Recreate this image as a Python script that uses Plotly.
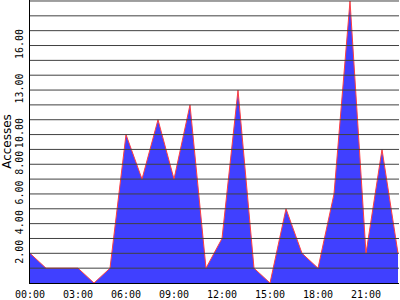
import plotly.graph_objects as go

hours = list(range(24))
accesses = [2, 1, 1, 1, 0, 1, 10, 7, 11, 7, 12, 1, 3, 13, 1, 0, 5, 2, 1, 6, 19, 2, 9, 2]
x_tickvals = [0, 3, 6, 9, 12, 15, 18, 21]
x_ticktext = ["00:00", "03:00", "06:00", "09:00", "12:00", "15:00", "18:00", "21:00"]
y_tickvals = [2, 4, 6, 8, 10, 13, 16]
y_ticktext = ["2.00", "4.00", "6.00", "8.00", "10.00", "13.00", "16.00"]
grid_levels = list(range(1, 20))

fig = go.Figure()
fig.add_trace(go.Scatter(
    x=hours, y=accesses, mode="lines", fill="tozeroy",
    fillcolor="#4040FF", line=dict(color="#FF4040", width=1),
    hoverinfo="skip", showlegend=False,
))

for g in grid_levels:
    fig.add_hline(y=g, line=dict(color="#404040", width=1), layer="above")

fig.update_layout(
    width=400, height=300,
    margin=dict(l=30, r=1, t=0, b=14),
    paper_bgcolor="white", plot_bgcolor="white",
    font=dict(family="DejaVu Sans Mono", size=10, color="black"),
)
fig.update_xaxes(
    range=[0, 23.0625], tickvals=x_tickvals, ticktext=x_ticktext,
    showgrid=False, zeroline=False, showline=True, linecolor="black", linewidth=1,
    ticks="", ticklabelstandoff=2,
)
fig.update_yaxes(
    range=[0, 286 / 15], tickvals=y_tickvals, ticktext=y_ticktext, tickangle=-90,
    showgrid=False, zeroline=False, showline=True, linecolor="black", linewidth=1,
    ticks="", ticklabelstandoff=2,
    title=dict(text="Accesses", font=dict(family="DejaVu Sans", size=12, color="black"), standoff=4),
)

fig.write_html("out.html")
